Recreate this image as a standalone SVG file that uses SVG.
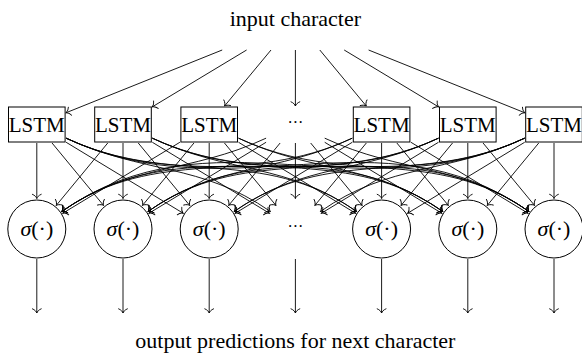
<svg xmlns="http://www.w3.org/2000/svg" width="582" height="354" viewBox="0 0 582 354">
<defs>
<marker id="to" markerUnits="userSpaceOnUse" orient="auto" refX="0" refY="0" markerWidth="10" markerHeight="10" overflow="visible">
<path d="M-4.2,-4.4 C-3.2,-1.8 -1.2,-0.4 0,0 C-1.2,0.4 -3.2,1.8 -4.2,4.4" fill="none" stroke="#000" stroke-width="0.9" stroke-linecap="round"/>
</marker>
</defs>
<style>
.t{font-family:"Liberation Serif","Times New Roman",serif;fill:#000;text-anchor:middle}
.lbl{font-size:22px}
.box{fill:#fff;stroke:#000;stroke-width:1}
.cir{fill:#fff;stroke:#000;stroke-width:1}
.c path{fill:none;stroke:#000;stroke-width:0.9;marker-end:url(#to)}
.nm{font-size:21px}
.sg{font-size:22px}
.dots{font-size:16px}
</style>
<rect width="582" height="354" fill="#fff"/>
<g id="connectors" class="c">
<path d="M222.2,50 L66.1,112.73"/>
<path d="M246.6,50 L152.3,106.84"/>
<path d="M271,50 L224.55,106"/>
<path d="M295.4,50 L295.4,106"/>
<path d="M319.8,50 L366.25,106"/>
<path d="M344.2,50 L438.5,106.84"/>
<path d="M368.6,50 L524.7,112.73"/>
<path d="M36.8,143 V198.5"/>
<path d="M123,143 V198.5"/>
<path d="M209.2,143 V198.5"/>
<path d="M295.4,143 V198.5"/>
<path d="M381.6,143 V198.5"/>
<path d="M467.8,143 V198.5"/>
<path d="M554,143 V198.5"/>
<path d="M52.06,143 L103.59,205.47"/>
<path d="M138.26,143 L189.79,205.47"/>
<path d="M224.46,143 L275.99,205.47"/>
<path d="M310.66,143 L362.19,205.47"/>
<path d="M396.86,143 L448.39,205.47"/>
<path d="M483.06,143 L534.59,205.47"/>
<path d="M107.74,143 L56.21,205.47"/>
<path d="M193.94,143 L142.41,205.47"/>
<path d="M280.14,143 L228.61,205.47"/>
<path d="M366.34,143 L314.81,205.47"/>
<path d="M452.54,143 L401.01,205.47"/>
<path d="M538.74,143 L487.21,205.47"/>
<path d="M66.1,142.26 L183.12,213.19"/>
<path d="M152.3,142.26 L269.32,213.19"/>
<path d="M238.5,142.26 L355.52,213.19"/>
<path d="M324.7,142.26 L441.72,213.19"/>
<path d="M410.9,142.26 L527.92,213.19"/>
<path d="M179.9,142.26 L62.88,213.19"/>
<path d="M266.1,142.26 L149.08,213.19"/>
<path d="M352.3,142.26 L235.28,213.19"/>
<path d="M438.5,142.26 L321.48,213.19"/>
<path d="M524.7,142.26 L407.68,213.19"/>
<path d="M66.1,138.16 C143.13,174.08 200.8,162.76 270.42,211.51"/>
<path d="M152.3,138.16 C229.33,174.08 287,162.76 356.62,211.51"/>
<path d="M238.5,138.16 C315.53,174.08 373.2,162.76 442.82,211.51"/>
<path d="M324.7,138.16 C401.73,174.08 459.4,162.76 529.02,211.51"/>
<path d="M66.1,138.16 C172.42,187.74 260.52,144.22 356.62,211.51"/>
<path d="M152.3,138.16 C258.62,187.74 346.72,144.22 442.82,211.51"/>
<path d="M238.5,138.16 C344.82,187.74 432.92,144.22 529.02,211.51"/>
<path d="M66.1,138.16 C202.27,201.66 319.74,125.33 442.82,211.51"/>
<path d="M152.3,138.16 C288.47,201.66 405.94,125.33 529.02,211.51"/>
<path d="M66.1,138.16 C232.4,215.7 378.71,106.26 529.02,211.51"/>
<path d="M524.7,138.16 C447.67,174.08 390,162.76 320.38,211.51"/>
<path d="M438.5,138.16 C361.47,174.08 303.8,162.76 234.18,211.51"/>
<path d="M352.3,138.16 C275.27,174.08 217.6,162.76 147.98,211.51"/>
<path d="M266.1,138.16 C189.07,174.08 131.4,162.76 61.78,211.51"/>
<path d="M524.7,138.16 C418.38,187.74 330.28,144.22 234.18,211.51"/>
<path d="M438.5,138.16 C332.18,187.74 244.08,144.22 147.98,211.51"/>
<path d="M352.3,138.16 C245.98,187.74 157.88,144.22 61.78,211.51"/>
<path d="M524.7,138.16 C388.53,201.66 271.06,125.33 147.98,211.51"/>
<path d="M438.5,138.16 C302.33,201.66 184.86,125.33 61.78,211.51"/>
<path d="M524.7,138.16 C358.4,215.7 212.09,106.26 61.78,211.51"/>
<path d="M36.8,259 V313"/>
<path d="M123,259 V313"/>
<path d="M209.2,259 V313"/>
<path d="M295.4,259 V313"/>
<path d="M381.6,259 V313"/>
<path d="M467.8,259 V313"/>
<path d="M554,259 V313"/>
</g>
<g id="input-label"><text class="t lbl" x="295.4" y="26">input character</text></g>
<g id="output-label"><text class="t lbl" x="295.4" y="348">output predictions for next character</text></g>
<g id="lstm0"><rect class="box" x="8.5" y="107" width="56.6" height="35"/><text class="t nm" x="36.8" y="131.5">LSTM</text></g>
<g id="lstm1"><rect class="box" x="94.7" y="107" width="56.6" height="35"/><text class="t nm" x="123" y="131.5">LSTM</text></g>
<g id="lstm2"><rect class="box" x="180.9" y="107" width="56.6" height="35"/><text class="t nm" x="209.2" y="131.5">LSTM</text></g>
<g id="lstm-dots"><text class="t dots" x="295.4" y="127.5">···</text></g>
<g id="lstm4"><rect class="box" x="353.3" y="107" width="56.6" height="35"/><text class="t nm" x="381.6" y="131.5">LSTM</text></g>
<g id="lstm5"><rect class="box" x="439.5" y="107" width="56.6" height="35"/><text class="t nm" x="467.8" y="131.5">LSTM</text></g>
<g id="lstm6"><rect class="box" x="525.7" y="107" width="56.6" height="35"/><text class="t nm" x="554" y="131.5">LSTM</text></g>
<g id="sig0"><circle class="cir" cx="36.8" cy="229" r="29"/><text class="t sg" x="36.8" y="236"><tspan font-style="italic">σ</tspan>(·)</text></g>
<g id="sig1"><circle class="cir" cx="123" cy="229" r="29"/><text class="t sg" x="123" y="236"><tspan font-style="italic">σ</tspan>(·)</text></g>
<g id="sig2"><circle class="cir" cx="209.2" cy="229" r="29"/><text class="t sg" x="209.2" y="236"><tspan font-style="italic">σ</tspan>(·)</text></g>
<g id="sig-dots"><text class="t dots" x="295.4" y="232">···</text></g>
<g id="sig4"><circle class="cir" cx="381.6" cy="229" r="29"/><text class="t sg" x="381.6" y="236"><tspan font-style="italic">σ</tspan>(·)</text></g>
<g id="sig5"><circle class="cir" cx="467.8" cy="229" r="29"/><text class="t sg" x="467.8" y="236"><tspan font-style="italic">σ</tspan>(·)</text></g>
<g id="sig6"><circle class="cir" cx="554" cy="229" r="29"/><text class="t sg" x="554" y="236"><tspan font-style="italic">σ</tspan>(·)</text></g>
</svg>
